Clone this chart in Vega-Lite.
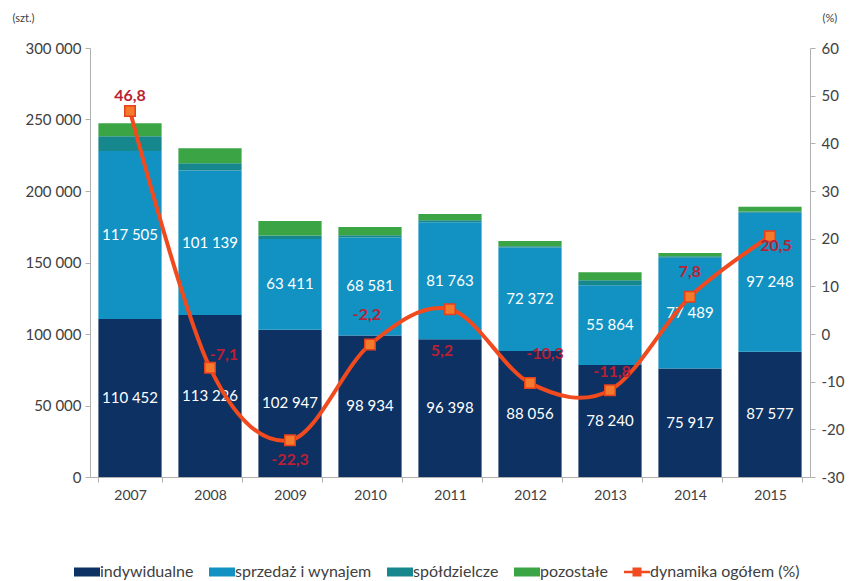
{
  "$schema": "https://vega.github.io/schema/vega-lite/v6.json",
  "width": 720,
  "height": 429,
  "autosize": "none",
  "padding": {"left": 90, "top": 48, "right": 45, "bottom": 104},
  "background": "white",
  "config": {
    "font": "Lato",
    "locale": {"number": {"decimal": ",", "thousands": "\u00a0", "grouping": [3], "currency": ["", " zł"], "minus": "-"}},
    "view": {"stroke": null},
    "axis": {"grid": false, "labelFont": "Lato", "labelFontSize": 15, "labelColor": "#404040", "domainColor": "#b0b0b0", "tickColor": "#b0b0b0", "tickSize": 5}
  },
  "datasets": {
    "bars": [
      {"year": "2007", "cat": "indywidualne", "v": 110452},
      {"year": "2007", "cat": "sprzedaż i wynajem", "v": 117505},
      {"year": "2007", "cat": "spółdzielcze", "v": 10400},
      {"year": "2007", "cat": "pozostałe", "v": 9100},
      {"year": "2008", "cat": "indywidualne", "v": 113226},
      {"year": "2008", "cat": "sprzedaż i wynajem", "v": 101139},
      {"year": "2008", "cat": "spółdzielcze", "v": 5000},
      {"year": "2008", "cat": "pozostałe", "v": 10600},
      {"year": "2009", "cat": "indywidualne", "v": 102947},
      {"year": "2009", "cat": "sprzedaż i wynajem", "v": 63411},
      {"year": "2009", "cat": "spółdzielcze", "v": 2500},
      {"year": "2009", "cat": "pozostałe", "v": 10100},
      {"year": "2010", "cat": "indywidualne", "v": 98934},
      {"year": "2010", "cat": "sprzedaż i wynajem", "v": 68581},
      {"year": "2010", "cat": "spółdzielcze", "v": 1500},
      {"year": "2010", "cat": "pozostałe", "v": 5800},
      {"year": "2011", "cat": "indywidualne", "v": 96398},
      {"year": "2011", "cat": "sprzedaż i wynajem", "v": 81763},
      {"year": "2011", "cat": "spółdzielcze", "v": 1400},
      {"year": "2011", "cat": "pozostałe", "v": 4300},
      {"year": "2012", "cat": "indywidualne", "v": 88056},
      {"year": "2012", "cat": "sprzedaż i wynajem", "v": 72372},
      {"year": "2012", "cat": "spółdzielcze", "v": 1000},
      {"year": "2012", "cat": "pozostałe", "v": 3600},
      {"year": "2013", "cat": "indywidualne", "v": 78240},
      {"year": "2013", "cat": "sprzedaż i wynajem", "v": 55864},
      {"year": "2013", "cat": "spółdzielcze", "v": 3500},
      {"year": "2013", "cat": "pozostałe", "v": 5500},
      {"year": "2014", "cat": "indywidualne", "v": 75917},
      {"year": "2014", "cat": "sprzedaż i wynajem", "v": 77489},
      {"year": "2014", "cat": "spółdzielcze", "v": 1000},
      {"year": "2014", "cat": "pozostałe", "v": 2300},
      {"year": "2015", "cat": "indywidualne", "v": 87577},
      {"year": "2015", "cat": "sprzedaż i wynajem", "v": 97248},
      {"year": "2015", "cat": "spółdzielcze", "v": 900},
      {"year": "2015", "cat": "pozostałe", "v": 3200}
    ],
    "dyn": [
      {"year": "2007", "dyn": 46.8},
      {"year": "2008", "dyn": -7.1},
      {"year": "2009", "dyn": -22.3},
      {"year": "2010", "dyn": -2.2},
      {"year": "2011", "dyn": 5.2},
      {"year": "2012", "dyn": -10.3},
      {"year": "2013", "dyn": -11.8},
      {"year": "2014", "dyn": 7.8},
      {"year": "2015", "dyn": 20.5}
    ]
  },
  "layer": [
    {
      "data": {"name": "bars"},
      "transform": [
        {"calculate": "indexof(['indywidualne','sprzedaż i wynajem','spółdzielcze','pozostałe'], datum.cat)", "as": "ord"}
      ],
      "layer": [
        {
          "mark": {"type": "bar"},
          "encoding": {
            "x": {"field": "year", "type": "ordinal", "scale": {"paddingInner": 0.21, "paddingOuter": 0.105},
                  "axis": {"title": null, "labelAngle": 0, "tickBand": "extent", "labelPadding": 6, "labelColor": "#404040", "labelFontSize": 14}},
            "y": {"field": "v", "type": "quantitative", "stack": "zero", "scale": {"domain": [0, 300000]},
                  "axis": {"values": [0, 50000, 100000, 150000, 200000, 250000, 300000], "format": ",d", "title": "(szt.)",
                           "titleAngle": 0, "titleX": -78, "titleY": -30, "titleAlign": "left", "titleBaseline": "middle",
                           "titleFontSize": 11, "titleFontWeight": "normal", "titleColor": "#404040", "labelPadding": 4}},
            "color": {"field": "cat", "type": "nominal",
                      "scale": {"domain": ["indywidualne", "sprzedaż i wynajem", "spółdzielcze", "pozostałe", "dynamika ogółem (%)"],
                                "range": ["#0c3162", "#1192c2", "#17878e", "#3ba546", "#f04a1e"]},
                      "legend": {"title": null, "orient": "none", "direction": "horizontal", "legendX": -13, "legendY": 514,
                                 "labelFontSize": 16, "labelColor": "#404040", "labelFont": "Lato", "symbolSize": 400,
                                 "columnPadding": 15, "labelOffset": 3, "symbolType": "square",
                                 "encode": {"symbols": {"update": {
                                   "shape": {"signal": "datum.value === 'dynamika ogółem (%)' ? 'M-1.3,-0.13H1.3V0.13H-1.3Z M-0.45,-0.45H0.45V0.45H-0.45Z' : 'M-1.3,-0.45H1.3V0.45H-1.3Z'"},
                                   "fill": {"signal": "scale('color', datum.value)"},
                                   "strokeWidth": {"value": 0},
                                   "opacity": {"value": 1}}}}}},
            "order": {"field": "ord", "type": "quantitative"}
          }
        },
        {
          "transform": [
            {"stack": "v", "groupby": ["year"], "sort": [{"field": "ord", "order": "ascending"}], "as": ["v0", "v1"]},
            {"filter": "datum.ord < 2"},
            {"calculate": "(datum.v0 + datum.v1) / 2", "as": "mid"}
          ],
          "mark": {"type": "text", "color": "white", "fontSize": 15, "font": "Lato"},
          "encoding": {
            "x": {"field": "year", "type": "ordinal"},
            "y": {"field": "mid", "type": "quantitative", "scale": {"domain": [0, 300000]}},
            "text": {"field": "v", "type": "quantitative", "format": ",d"}
          }
        }
      ]
    },
    {
      "data": {"name": "dyn"},
      "encoding": {
        "x": {"field": "year", "type": "ordinal"},
        "y": {"field": "dyn", "type": "quantitative", "scale": {"domain": [-30, 60]},
              "axis": {"orient": "right", "values": [-30, -20, -10, 0, 10, 20, 30, 40, 50, 60], "format": "d", "title": "(%)",
                       "titleAngle": 0, "titleX": 12, "titleY": -30, "titleAlign": "left", "titleBaseline": "middle",
                       "titleFontSize": 11, "titleFontWeight": "normal", "titleColor": "#404040", "labelPadding": 6}}
      },
      "layer": [
        {"mark": {"type": "line", "interpolate": "cardinal", "color": "#f04a1e", "strokeWidth": 4}},
        {"mark": {"type": "point", "shape": "square", "filled": true, "size": 110, "color": "#f47a2c", "stroke": "#e8401c", "strokeWidth": 1.5, "opacity": 1}},
        {"transform": [{"filter": "datum.year == '2007'"}],
         "mark": {"type": "text", "dy": -15, "fontSize": 16, "fontWeight": "bold", "color": "#bb1f35", "font": "Lato"},
         "encoding": {"text": {"field": "dyn", "type": "quantitative", "format": ".1f"}}},
        {"transform": [{"filter": "datum.year == '2008'"}],
         "mark": {"type": "text", "dx": 14, "dy": -13, "fontSize": 16, "fontWeight": "bold", "color": "#bb1f35", "font": "Lato"},
         "encoding": {"text": {"field": "dyn", "type": "quantitative", "format": ".1f"}}},
        {"transform": [{"filter": "datum.year == '2009'"}],
         "mark": {"type": "text", "dy": 20, "fontSize": 16, "fontWeight": "bold", "color": "#bb1f35", "font": "Lato"},
         "encoding": {"text": {"field": "dyn", "type": "quantitative", "format": ".1f"}}},
        {"transform": [{"filter": "datum.year == '2010'"}],
         "mark": {"type": "text", "dx": -3, "dy": -29, "fontSize": 16, "fontWeight": "bold", "color": "#bb1f35", "font": "Lato"},
         "encoding": {"text": {"field": "dyn", "type": "quantitative", "format": ".1f"}}},
        {"transform": [{"filter": "datum.year == '2011'"}],
         "mark": {"type": "text", "dx": -8, "dy": 42, "fontSize": 16, "fontWeight": "bold", "color": "#bb1f35", "font": "Lato"},
         "encoding": {"text": {"field": "dyn", "type": "quantitative", "format": ".1f"}}},
        {"transform": [{"filter": "datum.year == '2012'"}],
         "mark": {"type": "text", "dx": 15, "dy": -29, "fontSize": 16, "fontWeight": "bold", "color": "#bb1f35", "font": "Lato"},
         "encoding": {"text": {"field": "dyn", "type": "quantitative", "format": ".1f"}}},
        {"transform": [{"filter": "datum.year == '2013'"}],
         "mark": {"type": "text", "dx": 2, "dy": -18, "fontSize": 16, "fontWeight": "bold", "color": "#bb1f35", "font": "Lato"},
         "encoding": {"text": {"field": "dyn", "type": "quantitative", "format": ".1f"}}},
        {"transform": [{"filter": "datum.year == '2014'"}],
         "mark": {"type": "text", "dy": -25, "fontSize": 16, "fontWeight": "bold", "color": "#bb1f35", "font": "Lato"},
         "encoding": {"text": {"field": "dyn", "type": "quantitative", "format": ".1f"}}},
        {"transform": [{"filter": "datum.year == '2015'"}],
         "mark": {"type": "text", "dx": 6, "dy": 10, "fontSize": 16, "fontWeight": "bold", "color": "#bb1f35", "font": "Lato"},
         "encoding": {"text": {"field": "dyn", "type": "quantitative", "format": ".1f"}}}
      ]
    }
  ],
  "resolve": {"scale": {"y": "independent"}}
}
